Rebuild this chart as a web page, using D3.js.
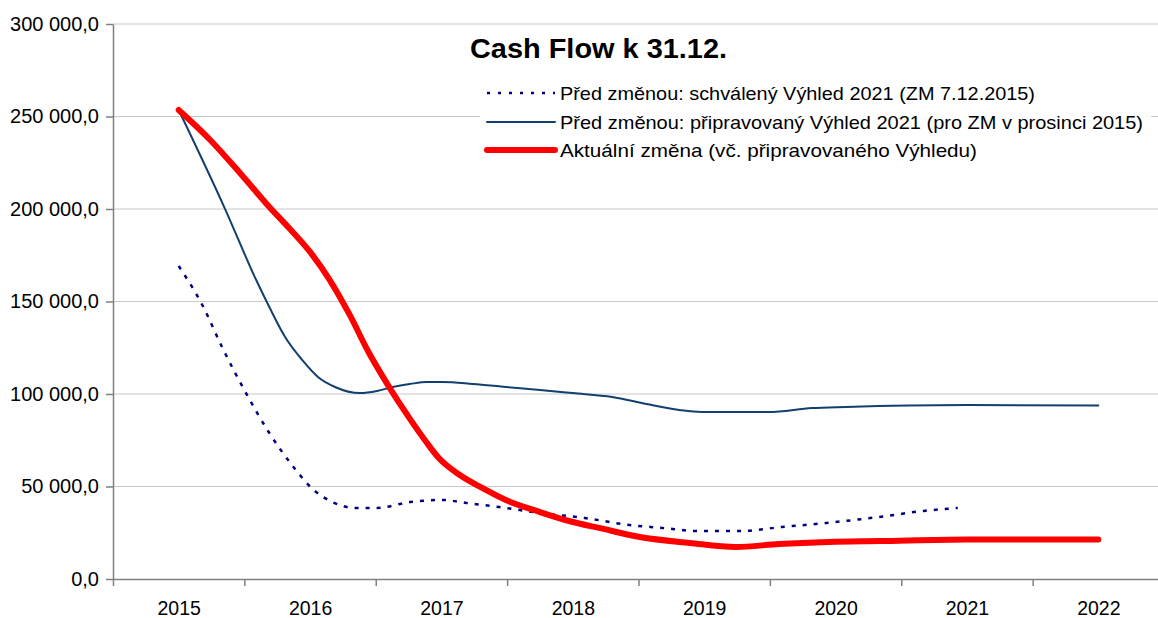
<!DOCTYPE html>
<html><head><meta charset="utf-8">
<script src="https://cdn.jsdelivr.net/npm/d3@7"></script>
<style>
body{margin:0;background:#fff}
svg{display:block}
text{font-family:"Liberation Sans",Arial,sans-serif;fill:#000}
</style>
</head><body>
<svg id="c" width="1158" height="618"></svg>
<script>
// ---- data ----
const years = ["2015","2016","2017","2018","2019","2020","2021","2022"];
const yTicks = [0, 50000, 100000, 150000, 200000, 250000, 300000];
const title = "Cash Flow k 31.12.";
const seriesNames = [
  "Před změnou: schválený Výhled 2021 (ZM 7.12.2015)",
  "Před změnou: připravovaný Výhled 2021 (pro ZM v prosinci 2015)",
  "Aktuální změna (vč. připravovaného Výhledu)"
];
// time (in years) and values for each series
const approvedT = [2015.00,2015.18,2015.33,2015.52,2015.69,2015.88,2016.02,2016.17,2016.35,2016.51,2016.76,2017.01,2017.19,2017.44,2017.75,2018.09,2018.43,2018.68,2018.96,2019.27,2019.59,2019.93,2020.33,2020.67,2020.93];
const approvedV = [169200,148100,125400,99500,78900,60000,48600,41600,38400,38400,41600,42700,41100,38900,35700,33000,29200,27600,25900,25900,28100,30300,33500,36800,38400];
const preparedT = [2015.00,2015.35,2015.59,2015.69,2015.81,2015.94,2016.06,2016.19,2016.38,2016.51,2016.63,2016.76,2016.89,2017.01,2017.24,2017.49,2017.75,2018.00,2018.30,2018.56,2018.81,2018.98,2019.49,2019.82,2020.08,2021.00,2022.00];
const preparedV = [253500,200500,161600,147000,130800,118400,109200,103800,100500,101600,103800,105400,106500,106500,105400,103800,102200,100500,98400,94600,91400,90300,90300,92400,93000,94000,93800];
const currentT = [2015.00,2015.24,2015.46,2015.69,2015.84,2016.00,2016.15,2016.30,2016.45,2016.60,2016.75,2016.89,2016.98,2017.14,2017.31,2017.49,2017.75,2018.00,2018.20,2018.51,2018.89,2019.24,2019.57,2019.95,2020.33,2021.00,2022.00];
const currentV = [253500,237300,220000,201100,189700,176800,161600,143000,122000,104000,87600,73500,65400,56200,49200,42700,36200,30800,27600,22700,19500,17300,18900,20000,20500,21400,21400];

// ---- layout ----
const svg = d3.select("#c");
const mLeft = 113, mRight = 1164, mTop = 24, mBottom = 579;
const x = d3.scaleLinear().domain([+years[0]-0.5, +years[years.length-1]+0.5]).range([mLeft, mRight]);
const y = d3.scaleLinear().domain([0, 300000]).range([mBottom, mTop]);

const loc = d3.formatLocale({decimal:",", thousands:" ", grouping:[3], currency:["",""]});
const fmt = loc.format(",.1f");

// gridlines
svg.append("g").selectAll("line").data(yTicks.filter(d=>d>0)).join("line")
  .attr("x1", mLeft).attr("x2", 1158)
  .attr("y1", d=>y(d)).attr("y2", d=>y(d))
  .attr("stroke", "#c8c8c8").attr("stroke-width", 1);

// y axis
const ya = svg.append("g").attr("transform", `translate(${mLeft},0)`)
  .call(d3.axisLeft(y).tickValues(yTicks).tickFormat(fmt).tickSize(7).tickPadding(7).tickSizeOuter(0));
ya.select(".domain").attr("stroke", "#808080").attr("stroke-width", 1.5);
ya.selectAll(".tick line").attr("stroke", "#808080").attr("stroke-width", 1.5);
ya.selectAll("text").style("font-size", "20px").attr("fill", "#000");

// x axis (ticks at category boundaries)
const bounds = d3.range(years.length + 1).map(i => +years[0] - 0.5 + i);
const xa = svg.append("g").attr("transform", `translate(0,${mBottom})`)
  .call(d3.axisBottom(x).tickValues(bounds).tickFormat("").tickSize(7).tickSizeOuter(0));
xa.select(".domain").attr("stroke", "#808080").attr("stroke-width", 1.5);
xa.selectAll(".tick line").attr("stroke", "#808080").attr("stroke-width", 1.5);
const xl = svg.append("g").attr("transform", `translate(0,${mBottom})`)
  .call(d3.axisBottom(x).tickValues(years.map(Number)).tickFormat(d=>String(d)).tickSize(0));
xl.select(".domain").remove();
xl.selectAll("text").attr("y", 36).attr("dy", 0).style("font-size", "19.5px").attr("fill", "#000");

// lines
const line = d3.line().x(d=>x(d[0])).y(d=>y(d[1])).curve(d3.curveMonotoneX);
const zip = (t, v) => t.map((d, i) => [d, v[i]]);
const styles = [
  {color:"#000080", width:2.5, dash:"4,7", cap:"butt"},
  {color:"#11406f", width:2, dash:null, cap:"round"},
  {color:"#ff0000", width:6, dash:null, cap:"round"}
];
const data = [zip(approvedT, approvedV), zip(preparedT, preparedV), zip(currentT, currentV)];
data.forEach((d, i) => {
  svg.append("path").datum(d).attr("d", line)
    .attr("fill", "none").attr("stroke", styles[i].color)
    .attr("stroke-width", styles[i].width)
    .attr("stroke-dasharray", styles[i].dash)
    .attr("stroke-linecap", styles[i].cap)
    .attr("stroke-linejoin", "round");
});

// legend
svg.append("rect").attr("x", 480).attr("y", 76).attr("width", 671).attr("height", 88).attr("fill", "#fff");
const rowsY = [93, 122, 150];
const widths = [475, 583, 417];
seriesNames.forEach((n, i) => {
  svg.append("line").attr("x1", 487).attr("x2", 555).attr("y1", rowsY[i]).attr("y2", rowsY[i])
    .attr("stroke", styles[i].color).attr("stroke-width", styles[i].width)
    .attr("stroke-dasharray", styles[i].dash ? "3,8" : null)
    .attr("stroke-linecap", styles[i].cap);
  svg.append("text").attr("x", 560).attr("y", rowsY[i]).attr("dy", "0.35em")
    .style("font-size", "19px").attr("textLength", widths[i]).attr("lengthAdjust", "spacingAndGlyphs")
    .text(n);
});

// title
svg.append("text").attr("x", 470).attr("y", 58).style("font-size", "28px").style("font-weight", "bold")
  .attr("textLength", 257).attr("lengthAdjust", "spacingAndGlyphs").text(title);
</script>
</body></html>
